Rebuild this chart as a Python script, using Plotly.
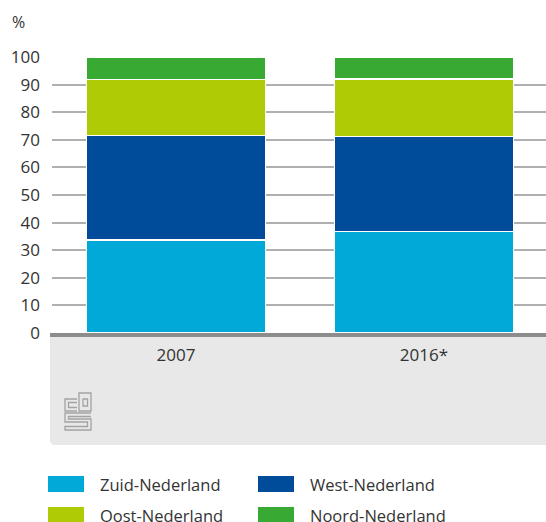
import plotly.graph_objects as go

years = ["2007", "2016*"]
regions = ["Zuid-Nederland", "West-Nederland", "Oost-Nederland", "Noord-Nederland"]
zuid = [33.7, 36.9]
west = [37.8, 34.4]
oost = [20.3, 20.7]
noord = [8.2, 8.0]
y_ticks = [0, 10, 20, 30, 40, 50, 60, 70, 80, 90, 100]

colors = ["#00a9d8", "#004c9b", "#afcb05", "#38aa34"]
series = [zuid, west, oost, noord]

W, H = 546, 522
ML, MT, MR = 52, 57, 0
MB = H - 333
PW, PH = W - ML - MR, H - MT - MB


def xp(px):
    return (px - ML) / PW


def yp(py):
    return (H - MB - py) / PH


FONT = "Open Sans"
TXT = "#333333"
fig = go.Figure()
for name, vals, col in zip(regions, series, colors):
    fig.add_trace(go.Bar(
        x=years, y=vals, name=name, marker=dict(color=col, line=dict(color="white", width=1.2)),
        width=0.72, showlegend=False, hoverinfo="skip"))

shapes = []
# grey band below axis
shapes.append(dict(type="path", xref="paper", yref="paper",
                   path=(f"M {xp(50)},{yp(337)} L {xp(546)},{yp(337)} L {xp(546)},{yp(445)} "
                         f"L {xp(55)},{yp(445)} Q {xp(50)},{yp(445)} {xp(50)},{yp(440)} Z"),
                   fillcolor="#e8e8e8", line=dict(width=0), layer="below"))
# zero axis line
shapes.append(dict(type="line", xref="paper", yref="paper", x0=xp(50), x1=xp(546), y0=yp(335), y1=yp(335),
                   line=dict(color="#8c8c8c", width=4)))

# cbs logo (approximate)
lg = dict(color="#a3a3a3", width=1.3)


def rect(a, b, c, d):
    shapes.append(dict(type="rect", xref="paper", yref="paper", x0=xp(a), x1=xp(c), y0=yp(b), y1=yp(d),
                       line=lg, fillcolor="rgba(0,0,0,0)"))


def path(pts):
    p = "M " + " L ".join(f"{xp(a)},{yp(b)}" for a, b in pts)
    shapes.append(dict(type="path", xref="paper", yref="paper", path=p, line=lg))


# c
path([(77, 399), (65, 399), (65, 411), (77, 411)])
path([(77, 402.5), (68.5, 402.5), (68.5, 407.5), (77, 407.5)])
# b
rect(79, 393, 91, 411)
rect(83, 399, 87.5, 406)
# s
path([(91, 413), (65, 413), (65, 422), (87.5, 422), (87.5, 426.5), (65, 426.5), (65, 430), (91, 430),
      (91, 419), (68.5, 419), (68.5, 416.5), (91, 416.5)])

annotations = [dict(text="%", xref="paper", yref="paper", x=xp(10), y=yp(22), xanchor="left", yanchor="middle",
                    showarrow=False, font=dict(family=FONT, size=16, color=TXT))]

# legend drawn manually
pos = [(48, 484), (258, 484), (48, 515), (258, 515)]
for (lx, ly), name, col in zip(pos, regions, colors):
    shapes.append(dict(type="rect", xref="paper", yref="paper", x0=xp(lx), x1=xp(lx + 36), y0=yp(ly - 8),
                       y1=yp(ly + 8), fillcolor=col, line=dict(width=0)))
    annotations.append(dict(text=name, xref="paper", yref="paper", x=xp(lx + 50), y=yp(ly), xanchor="left",
                            yanchor="middle", showarrow=False, font=dict(family=FONT, size=16.5, color=TXT)))

fig.update_layout(
    barmode="stack", width=W, height=H,
    margin=dict(l=ML, r=MR, t=MT, b=MB, pad=0),
    paper_bgcolor="white", plot_bgcolor="white",
    font=dict(family=FONT, size=16, color=TXT),
    shapes=shapes, annotations=annotations,
    xaxis=dict(type="category", range=[-0.5, 1.492], showgrid=False, zeroline=False, showline=False, ticks="",
               tickfont=dict(family=FONT, size=17, color=TXT), ticklabelstandoff=10),
    yaxis=dict(range=[0, 100], tickvals=y_ticks, showgrid=True, gridcolor="#b0b0b0", gridwidth=1.5,
               zeroline=False, showline=False, ticks="", ticklabelstandoff=11,
               tickfont=dict(family=FONT, size=17, color=TXT)),
)

fig.write_html("out.html", config={"displayModeBar": False},
               post_script="document.body.style.margin='0';document.body.style.overflow='hidden';")
